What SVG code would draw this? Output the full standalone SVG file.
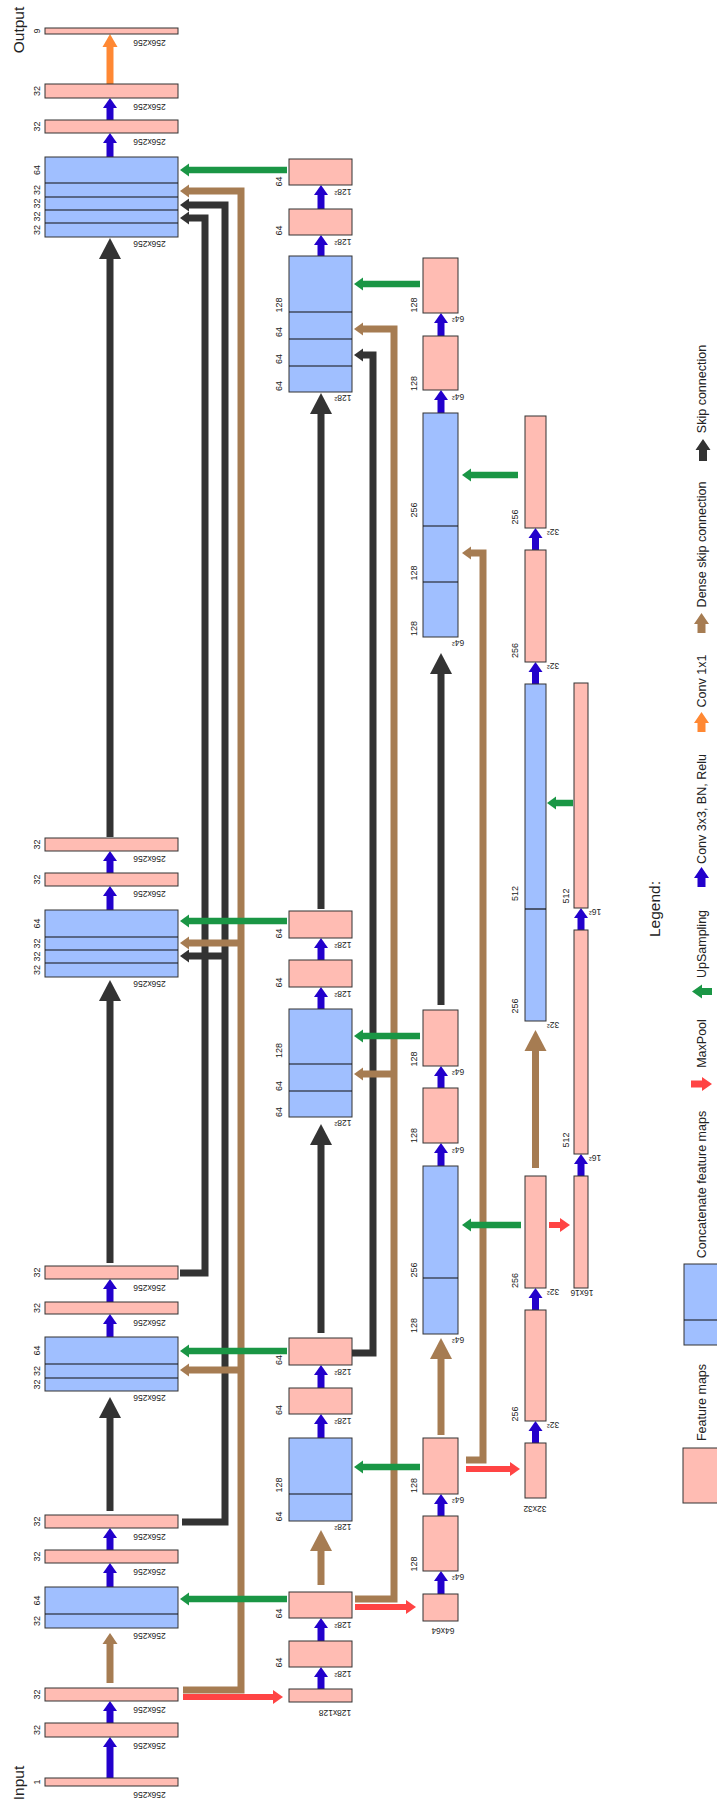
<svg xmlns="http://www.w3.org/2000/svg" width="717" height="1803" viewBox="0 0 717 1803">
<style>
.fm{fill:#ffbcb3;stroke:#333;stroke-width:1}
.cc{fill:#a0bfff;stroke:#333;stroke-width:1}
.dv{stroke:#111;stroke-width:1.2}
.t{font-family:"Liberation Sans",Arial,sans-serif;fill:#222;text-anchor:middle}
.ch{font-size:9px}
.sz{font-size:8.5px}
.lg{font-size:12.5px}
.big{font-size:15.5px}
.a{fill:none;stroke-linejoin:miter;stroke-linecap:butt}
.bl{stroke:#2200cc;stroke-width:7}
.or{stroke:#ff8833;stroke-width:7}
.bk{stroke:#333;stroke-width:7}
.br{stroke:#a67c52;stroke-width:7}
.gr{stroke:#1a9645;stroke-width:6.5}
.rd{stroke:#ff4444;stroke-width:6}
</style>
<defs>
<marker id="mb" markerUnits="userSpaceOnUse" viewBox="0 -12 24 24" markerWidth="24" markerHeight="24" refX="0" refY="0" orient="auto"><path d="M0,-7 L10,0 L0,7 Z" fill="#2200cc"/></marker>
<marker id="mo" markerUnits="userSpaceOnUse" viewBox="0 -12 24 24" markerWidth="24" markerHeight="24" refX="0" refY="0" orient="auto"><path d="M0,-7.5 L13,0 L0,7.5 Z" fill="#ff8833"/></marker>
<marker id="mkB" markerUnits="userSpaceOnUse" viewBox="0 -12 24 24" markerWidth="24" markerHeight="24" refX="0" refY="0" orient="auto"><path d="M0,-11 L21,0 L0,11 Z" fill="#333"/></marker>
<marker id="mrB" markerUnits="userSpaceOnUse" viewBox="0 -12 24 24" markerWidth="24" markerHeight="24" refX="0" refY="0" orient="auto"><path d="M0,-11 L21,0 L0,11 Z" fill="#a67c52"/></marker>
<marker id="mrM" markerUnits="userSpaceOnUse" viewBox="0 -12 24 24" markerWidth="24" markerHeight="24" refX="0" refY="0" orient="auto"><path d="M0,-7.5 L11,0 L0,7.5 Z" fill="#a67c52"/></marker>
<marker id="mks" markerUnits="userSpaceOnUse" viewBox="0 -12 24 24" markerWidth="24" markerHeight="24" refX="0" refY="0" orient="auto"><path d="M0,-6.5 L9,0 L0,6.5 Z" fill="#333"/></marker>
<marker id="mrs" markerUnits="userSpaceOnUse" viewBox="0 -12 24 24" markerWidth="24" markerHeight="24" refX="0" refY="0" orient="auto"><path d="M0,-6.5 L9,0 L0,6.5 Z" fill="#a67c52"/></marker>
<marker id="mg" markerUnits="userSpaceOnUse" viewBox="0 -12 24 24" markerWidth="24" markerHeight="24" refX="0" refY="0" orient="auto"><path d="M0,-6.5 L9,0 L0,6.5 Z" fill="#1a9645"/></marker>
<marker id="mr" markerUnits="userSpaceOnUse" viewBox="0 -12 24 24" markerWidth="24" markerHeight="24" refX="0" refY="0" orient="auto"><path d="M0,-7 L10,0 L0,7 Z" fill="#ff4444"/></marker>
</defs>
<rect x="0" y="0" width="717" height="1803" fill="#fff"/>

<g id="connectors">
<!-- long skip / dense connections -->
<path class="a bk" d="M182,1522H225V205H189" marker-end="url(#mks)"/>
<path class="a bk" d="M180,1273H205V218H189" marker-end="url(#mks)"/>
<path class="a bk" d="M352,1353H373V355H363" marker-end="url(#mks)"/>
<path class="a br" d="M183,1690H241V191H189" marker-end="url(#mrs)"/>
<path class="a br" d="M355,1599H394V329H363" marker-end="url(#mrs)"/>
<path class="a br" d="M466,1460H483V553H471" marker-end="url(#mrs)"/>
<path class="a bk" d="M225,956H189" marker-end="url(#mks)"/>
<path class="a br" d="M241,943H189" marker-end="url(#mrs)"/>
<path class="a br" d="M241,1370H189" marker-end="url(#mrs)"/>
<path class="a br" d="M394,1074H363" marker-end="url(#mrs)"/>
<!-- vertical skip arrows -->
<path class="a bk" d="M110,837V259" marker-end="url(#mkB)"/>
<path class="a bk" d="M110,1263V1001" marker-end="url(#mkB)"/>
<path class="a bk" d="M110,1511V1418" marker-end="url(#mkB)"/>
<path class="a bk" d="M321,909V414" marker-end="url(#mkB)"/>
<path class="a bk" d="M321,1333V1145" marker-end="url(#mkB)"/>
<path class="a bk" d="M441,1005V674" marker-end="url(#mkB)"/>
<!-- dense skip up arrows -->
<path class="a br" d="M110,1683V1644" marker-end="url(#mrM)"/>
<path class="a br" d="M321,1585V1551" marker-end="url(#mrB)"/>
<path class="a br" d="M441,1435V1359" marker-end="url(#mrB)"/>
<path class="a br" d="M535.5,1168V1051" marker-end="url(#mrB)"/>
<!-- upsampling -->
<path class="a gr" d="M287,170H189" marker-end="url(#mg)"/>
<path class="a gr" d="M287,921H189" marker-end="url(#mg)"/>
<path class="a gr" d="M287,1351H189" marker-end="url(#mg)"/>
<path class="a gr" d="M287,1599H189" marker-end="url(#mg)"/>
<path class="a gr" d="M420,284H363" marker-end="url(#mg)"/>
<path class="a gr" d="M420,1036H363" marker-end="url(#mg)"/>
<path class="a gr" d="M420,1467H363" marker-end="url(#mg)"/>
<path class="a gr" d="M518,475H471" marker-end="url(#mg)"/>
<path class="a gr" d="M521,1225H471" marker-end="url(#mg)"/>
<path class="a gr" d="M573,803H556" marker-end="url(#mg)"/>
<!-- maxpool -->
<path class="a rd" d="M183,1697H273" marker-end="url(#mr)"/>
<path class="a rd" d="M355,1607H406" marker-end="url(#mr)"/>
<path class="a rd" d="M466,1469H510" marker-end="url(#mr)"/>
<path class="a rd" d="M549,1225H560" marker-end="url(#mr)"/>
<!-- conv 1x1 -->
<path class="a or" d="M110,84V47" marker-end="url(#mo)"/>
<!-- conv 3x3 -->
<g class="a bl" marker-end="url(#mb)">
<path d="M110,120V108"/><path d="M110,157V143"/><path d="M110,873V861"/><path d="M110,910V896"/>
<path d="M110,1302V1289"/><path d="M110,1337V1324"/><path d="M110,1550V1538"/><path d="M110,1587V1573"/>
<path d="M110,1723V1711"/><path d="M110,1778V1747"/>
<path d="M321,209V195"/><path d="M321,256V245"/><path d="M321,960V948"/><path d="M321,1009V997"/>
<path d="M321,1388V1375"/><path d="M321,1438V1424"/><path d="M321,1641V1628"/><path d="M321,1689V1677"/>
<path d="M441,336V323"/><path d="M441,413V400"/><path d="M441,1088V1076"/><path d="M441,1166V1153"/>
<path d="M441,1516V1504"/><path d="M441,1594V1581"/>
<path d="M535.5,550V538"/><path d="M535.5,684V672"/><path d="M535.5,1310V1298"/><path d="M535.5,1443V1431"/>
<path d="M581,930V918"/><path d="M581,1176V1164"/>
</g>
</g>

<!-- Column 1 -->
<g id="n_output"><rect class="fm" x="45" y="28" width="133" height="6"/>
<text class="t ch" transform="translate(37,31) rotate(-90)" dy=".35em">9</text>
<text class="t sz" transform="translate(149.5,43) rotate(180)" dy=".35em">256x256</text></g>
<g id="n_d1a"><rect class="fm" x="45" y="84" width="133" height="14"/>
<text class="t ch" transform="translate(37,91) rotate(-90)" dy=".35em">32</text>
<text class="t sz" transform="translate(149.5,107) rotate(180)" dy=".35em">256x256</text></g>
<g id="n_d1b"><rect class="fm" x="45" y="120" width="133" height="13"/>
<text class="t ch" transform="translate(37,126.5) rotate(-90)" dy=".35em">32</text>
<text class="t sz" transform="translate(149.5,142) rotate(180)" dy=".35em">256x256</text></g>
<g id="cat_d1"><rect class="cc" x="45" y="157" width="133" height="80"/>
<path class="dv" d="M45,183H178M45,197H178M45,210H178M45,223H178"/>
<text class="t ch" transform="translate(37,170) rotate(-90)" dy=".35em">64</text>
<text class="t ch" transform="translate(37,190) rotate(-90)" dy=".35em">32</text>
<text class="t ch" transform="translate(37,203.5) rotate(-90)" dy=".35em">32</text>
<text class="t ch" transform="translate(37,216.5) rotate(-90)" dy=".35em">32</text>
<text class="t ch" transform="translate(37,230) rotate(-90)" dy=".35em">32</text>
<text class="t sz" transform="translate(149.5,244) rotate(180)" dy=".35em">256x256</text></g>
<g id="n_d2a"><rect class="fm" x="45" y="838" width="133" height="13"/>
<text class="t ch" transform="translate(37,844.5) rotate(-90)" dy=".35em">32</text>
<text class="t sz" transform="translate(149.5,859) rotate(180)" dy=".35em">256x256</text></g>
<g id="n_d2b"><rect class="fm" x="45" y="873" width="133" height="13"/>
<text class="t ch" transform="translate(37,879.5) rotate(-90)" dy=".35em">32</text>
<text class="t sz" transform="translate(149.5,894) rotate(180)" dy=".35em">256x256</text></g>
<g id="cat_d2"><rect class="cc" x="45" y="910" width="133" height="67"/>
<path class="dv" d="M45,937H178M45,950H178M45,963H178"/>
<text class="t ch" transform="translate(37,923.5) rotate(-90)" dy=".35em">64</text>
<text class="t ch" transform="translate(37,943.5) rotate(-90)" dy=".35em">32</text>
<text class="t ch" transform="translate(37,956.5) rotate(-90)" dy=".35em">32</text>
<text class="t ch" transform="translate(37,970) rotate(-90)" dy=".35em">32</text>
<text class="t sz" transform="translate(149.5,984) rotate(180)" dy=".35em">256x256</text></g>
<g id="n_d3a"><rect class="fm" x="45" y="1266" width="133" height="13"/>
<text class="t ch" transform="translate(37,1272.5) rotate(-90)" dy=".35em">32</text>
<text class="t sz" transform="translate(149.5,1288) rotate(180)" dy=".35em">256x256</text></g>
<g id="n_d3b"><rect class="fm" x="45" y="1302" width="133" height="12"/>
<text class="t ch" transform="translate(37,1308) rotate(-90)" dy=".35em">32</text>
<text class="t sz" transform="translate(149.5,1323) rotate(180)" dy=".35em">256x256</text></g>
<g id="cat_d3"><rect class="cc" x="45" y="1337" width="133" height="54"/>
<path class="dv" d="M45,1364H178M45,1378H178"/>
<text class="t ch" transform="translate(37,1350.5) rotate(-90)" dy=".35em">64</text>
<text class="t ch" transform="translate(37,1371) rotate(-90)" dy=".35em">32</text>
<text class="t ch" transform="translate(37,1384.5) rotate(-90)" dy=".35em">32</text>
<text class="t sz" transform="translate(149.5,1398) rotate(180)" dy=".35em">256x256</text></g>
<g id="n_d4a"><rect class="fm" x="45" y="1515" width="133" height="13"/>
<text class="t ch" transform="translate(37,1521.5) rotate(-90)" dy=".35em">32</text>
<text class="t sz" transform="translate(149.5,1537) rotate(180)" dy=".35em">256x256</text></g>
<g id="n_d4b"><rect class="fm" x="45" y="1550" width="133" height="13"/>
<text class="t ch" transform="translate(37,1556.5) rotate(-90)" dy=".35em">32</text>
<text class="t sz" transform="translate(149.5,1572) rotate(180)" dy=".35em">256x256</text></g>
<g id="cat_d4"><rect class="cc" x="45" y="1587" width="133" height="41"/>
<path class="dv" d="M45,1614H178"/>
<text class="t ch" transform="translate(37,1600.5) rotate(-90)" dy=".35em">64</text>
<text class="t ch" transform="translate(37,1621) rotate(-90)" dy=".35em">32</text>
<text class="t sz" transform="translate(149.5,1636) rotate(180)" dy=".35em">256x256</text></g>
<g id="n_e1b"><rect class="fm" x="45" y="1688" width="133" height="13"/>
<text class="t ch" transform="translate(37,1694.5) rotate(-90)" dy=".35em">32</text>
<text class="t sz" transform="translate(149.5,1710) rotate(180)" dy=".35em">256x256</text></g>
<g id="n_e1a"><rect class="fm" x="45" y="1723" width="133" height="14"/>
<text class="t ch" transform="translate(37,1730) rotate(-90)" dy=".35em">32</text>
<text class="t sz" transform="translate(149.5,1746) rotate(180)" dy=".35em">256x256</text></g>
<g id="n_input"><rect class="fm" x="45" y="1778" width="133" height="8"/>
<text class="t ch" transform="translate(37,1782) rotate(-90)" dy=".35em">1</text>
<text class="t sz" transform="translate(149.5,1795) rotate(180)" dy=".35em">256x256</text></g>
<g id="lbl_io">
<text class="t big" transform="translate(19,30) rotate(-90)" dy=".35em">Output</text>
<text class="t big" transform="translate(18.5,1783) rotate(-90)" dy=".35em">Input</text></g>

<!-- Column 2 -->
<g id="n_c2_1"><rect class="fm" x="289" y="159" width="63" height="26"/>
<text class="t ch" transform="translate(279,181.5) rotate(-90)" dy=".35em">64</text>
<text class="t sz" transform="translate(343,192) rotate(180)" dy=".35em">128²</text></g>
<g id="n_c2_2"><rect class="fm" x="289" y="209" width="63" height="26"/>
<text class="t ch" transform="translate(279,230.5) rotate(-90)" dy=".35em">64</text>
<text class="t sz" transform="translate(343,242) rotate(180)" dy=".35em">128²</text></g>
<g id="cat_c2_1"><rect class="cc" x="289" y="256" width="63" height="136"/>
<path class="dv" d="M289,312H352M289,339H352M289,366H352"/>
<text class="t ch" transform="translate(279,305) rotate(-90)" dy=".35em">128</text>
<text class="t ch" transform="translate(279,332) rotate(-90)" dy=".35em">64</text>
<text class="t ch" transform="translate(279,359) rotate(-90)" dy=".35em">64</text>
<text class="t ch" transform="translate(279,386) rotate(-90)" dy=".35em">64</text>
<text class="t sz" transform="translate(343,398) rotate(180)" dy=".35em">128²</text></g>
<g id="n_c2_3"><rect class="fm" x="289" y="911" width="63" height="27"/>
<text class="t ch" transform="translate(279,933.5) rotate(-90)" dy=".35em">64</text>
<text class="t sz" transform="translate(343,945) rotate(180)" dy=".35em">128²</text></g>
<g id="n_c2_4"><rect class="fm" x="289" y="960" width="63" height="27"/>
<text class="t ch" transform="translate(279,982.5) rotate(-90)" dy=".35em">64</text>
<text class="t sz" transform="translate(343,994) rotate(180)" dy=".35em">128²</text></g>
<g id="cat_c2_2"><rect class="cc" x="289" y="1009" width="63" height="108"/>
<path class="dv" d="M289,1064H352M289,1091H352"/>
<text class="t ch" transform="translate(279,1050.5) rotate(-90)" dy=".35em">128</text>
<text class="t ch" transform="translate(279,1086) rotate(-90)" dy=".35em">64</text>
<text class="t ch" transform="translate(279,1112) rotate(-90)" dy=".35em">64</text>
<text class="t sz" transform="translate(343,1123) rotate(180)" dy=".35em">128²</text></g>
<g id="n_c2_5"><rect class="fm" x="289" y="1338" width="63" height="27"/>
<text class="t ch" transform="translate(279,1360) rotate(-90)" dy=".35em">64</text>
<text class="t sz" transform="translate(343,1372) rotate(180)" dy=".35em">128²</text></g>
<g id="n_c2_6"><rect class="fm" x="289" y="1388" width="63" height="26"/>
<text class="t ch" transform="translate(279,1410) rotate(-90)" dy=".35em">64</text>
<text class="t sz" transform="translate(343,1421) rotate(180)" dy=".35em">128²</text></g>
<g id="cat_c2_3"><rect class="cc" x="289" y="1438" width="63" height="83"/>
<path class="dv" d="M289,1494H352"/>
<text class="t ch" transform="translate(279,1485) rotate(-90)" dy=".35em">128</text>
<text class="t ch" transform="translate(279,1516.5) rotate(-90)" dy=".35em">64</text>
<text class="t sz" transform="translate(343,1527) rotate(180)" dy=".35em">128²</text></g>
<g id="n_e2b"><rect class="fm" x="289" y="1592" width="63" height="26"/>
<text class="t ch" transform="translate(279,1613.5) rotate(-90)" dy=".35em">64</text>
<text class="t sz" transform="translate(343,1625) rotate(180)" dy=".35em">128²</text></g>
<g id="n_e2a"><rect class="fm" x="289" y="1641" width="63" height="26"/>
<text class="t ch" transform="translate(279,1662.5) rotate(-90)" dy=".35em">64</text>
<text class="t sz" transform="translate(343,1674) rotate(180)" dy=".35em">128²</text></g>
<g id="n_p2"><rect class="fm" x="289" y="1689" width="63" height="13"/>
<text class="t sz" transform="translate(335,1713) rotate(180)" dy=".35em">128x128</text></g>

<!-- Column 3 -->
<g id="n_c3_1"><rect class="fm" x="423" y="258" width="35" height="55"/>
<text class="t ch" transform="translate(413.5,305) rotate(-90)" dy=".35em">128</text>
<text class="t sz" transform="translate(458,319) rotate(180)" dy=".35em">64²</text></g>
<g id="n_c3_2"><rect class="fm" x="423" y="336" width="35" height="54"/>
<text class="t ch" transform="translate(413.5,383.5) rotate(-90)" dy=".35em">128</text>
<text class="t sz" transform="translate(458,397) rotate(180)" dy=".35em">64²</text></g>
<g id="cat_c3_1"><rect class="cc" x="423" y="413" width="35" height="224"/>
<path class="dv" d="M423,526H458M423,582H458"/>
<text class="t ch" transform="translate(413.5,510) rotate(-90)" dy=".35em">256</text>
<text class="t ch" transform="translate(413.5,573) rotate(-90)" dy=".35em">128</text>
<text class="t ch" transform="translate(413.5,628.5) rotate(-90)" dy=".35em">128</text>
<text class="t sz" transform="translate(458,643) rotate(180)" dy=".35em">64²</text></g>
<g id="n_c3_3"><rect class="fm" x="423" y="1010" width="35" height="56"/>
<text class="t ch" transform="translate(413.5,1059) rotate(-90)" dy=".35em">128</text>
<text class="t sz" transform="translate(458,1072) rotate(180)" dy=".35em">64²</text></g>
<g id="n_c3_4"><rect class="fm" x="423" y="1088" width="35" height="55"/>
<text class="t ch" transform="translate(413.5,1135.5) rotate(-90)" dy=".35em">128</text>
<text class="t sz" transform="translate(458,1150) rotate(180)" dy=".35em">64²</text></g>
<g id="cat_c3_2"><rect class="cc" x="423" y="1166" width="35" height="168"/>
<path class="dv" d="M423,1278H458"/>
<text class="t ch" transform="translate(413.5,1270) rotate(-90)" dy=".35em">256</text>
<text class="t ch" transform="translate(413.5,1325.5) rotate(-90)" dy=".35em">128</text>
<text class="t sz" transform="translate(458,1340) rotate(180)" dy=".35em">64²</text></g>
<g id="n_e3b"><rect class="fm" x="423" y="1438" width="35" height="56"/>
<text class="t ch" transform="translate(413.5,1485.5) rotate(-90)" dy=".35em">128</text>
<text class="t sz" transform="translate(458,1500) rotate(180)" dy=".35em">64²</text></g>
<g id="n_e3a"><rect class="fm" x="423" y="1516" width="35" height="55"/>
<text class="t ch" transform="translate(413.5,1564) rotate(-90)" dy=".35em">128</text>
<text class="t sz" transform="translate(458,1577) rotate(180)" dy=".35em">64²</text></g>
<g id="n_p3"><rect class="fm" x="423" y="1594" width="35" height="27"/>
<text class="t sz" transform="translate(443,1631) rotate(180)" dy=".35em">64x64</text></g>

<!-- Column 4 -->
<g id="n_c4_1"><rect class="fm" x="525" y="416" width="21" height="112"/>
<text class="t ch" transform="translate(515,517) rotate(-90)" dy=".35em">256</text>
<text class="t sz" transform="translate(553,532) rotate(180)" dy=".35em">32²</text></g>
<g id="n_c4_2"><rect class="fm" x="525" y="550" width="21" height="112"/>
<text class="t ch" transform="translate(515,650.5) rotate(-90)" dy=".35em">256</text>
<text class="t sz" transform="translate(553,666) rotate(180)" dy=".35em">32²</text></g>
<g id="cat_c4"><rect class="cc" x="525" y="684" width="21" height="337"/>
<path class="dv" d="M525,909H546"/>
<text class="t ch" transform="translate(515,893.5) rotate(-90)" dy=".35em">512</text>
<text class="t ch" transform="translate(515,1006) rotate(-90)" dy=".35em">256</text>
<text class="t sz" transform="translate(553,1025) rotate(180)" dy=".35em">32²</text></g>
<g id="n_e4b"><rect class="fm" x="525" y="1176" width="21" height="112"/>
<text class="t ch" transform="translate(515,1280.5) rotate(-90)" dy=".35em">256</text>
<text class="t sz" transform="translate(553,1292) rotate(180)" dy=".35em">32²</text></g>
<g id="n_e4a"><rect class="fm" x="525" y="1310" width="21" height="111"/>
<text class="t ch" transform="translate(515,1414) rotate(-90)" dy=".35em">256</text>
<text class="t sz" transform="translate(553,1425) rotate(180)" dy=".35em">32²</text></g>
<g id="n_p4"><rect class="fm" x="525" y="1443" width="21" height="55"/>
<text class="t sz" transform="translate(535,1509) rotate(180)" dy=".35em">32x32</text></g>

<!-- Column 5 -->
<g id="n_b2"><rect class="fm" x="574" y="683" width="14" height="225"/>
<text class="t ch" transform="translate(565.5,896) rotate(-90)" dy=".35em">512</text>
<text class="t sz" transform="translate(595,912) rotate(180)" dy=".35em">16²</text></g>
<g id="n_b1"><rect class="fm" x="574" y="930" width="14" height="224"/>
<text class="t ch" transform="translate(565.5,1140) rotate(-90)" dy=".35em">512</text>
<text class="t sz" transform="translate(595,1158) rotate(180)" dy=".35em">16²</text></g>
<g id="n_p5"><rect class="fm" x="574" y="1176" width="14" height="112"/>
<text class="t sz" transform="translate(582,1293) rotate(180)" dy=".35em">16x16</text></g>

<!-- Legend -->
<g id="legend">
<polygon points="703,439 710.5,450 707,450 707,461 699,461 699,450 695.5,450" fill="#333"/>
<text class="t lg" transform="translate(702,389) rotate(-90)" dy=".35em">Skip connection</text>
<polygon points="701.5,613 709,624 705.5,624 705.5,633 697.5,633 697.5,624 694,624" fill="#a67c52"/>
<text class="t lg" transform="translate(702,544.5) rotate(-90)" dy=".35em">Dense skip connection</text>
<polygon points="701.5,712 709,723 705.5,723 705.5,732 697.5,732 697.5,723 694,723" fill="#ff8833"/>
<text class="t lg" transform="translate(702,681) rotate(-90)" dy=".35em">Conv 1x1</text>
<polygon points="701.5,867 709,878 705.5,878 705.5,887 697.5,887 697.5,878 694,878" fill="#2200cc"/>
<text class="t lg" transform="translate(702,809) rotate(-90)" dy=".35em">Conv 3x3, BN, Relu</text>
<text class="t big" transform="translate(655,909) rotate(-90)" dy=".35em">Legend:</text>
<polygon points="692,991.5 702,984.5 702,988 712,988 712,995 702,995 702,998.5" fill="#1a9645"/>
<text class="t lg" transform="translate(702,944) rotate(-90)" dy=".35em">UpSampling</text>
<polygon points="712,1084 702,1077 702,1080.5 691,1080.5 691,1087.5 702,1087.5 702,1091" fill="#ff4444"/>
<text class="t lg" transform="translate(702,1043.5) rotate(-90)" dy=".35em">MaxPool</text>
<rect class="cc" x="684" y="1264" width="40" height="81"/>
<path class="dv" d="M684,1320H724"/>
<text class="t lg" transform="translate(702,1184.5) rotate(-90)" dy=".35em">Concatenate feature maps</text>
<rect class="fm" x="683" y="1448" width="40" height="55"/>
<text class="t lg" transform="translate(702,1402.5) rotate(-90)" dy=".35em">Feature maps</text>
</g>
</svg>
